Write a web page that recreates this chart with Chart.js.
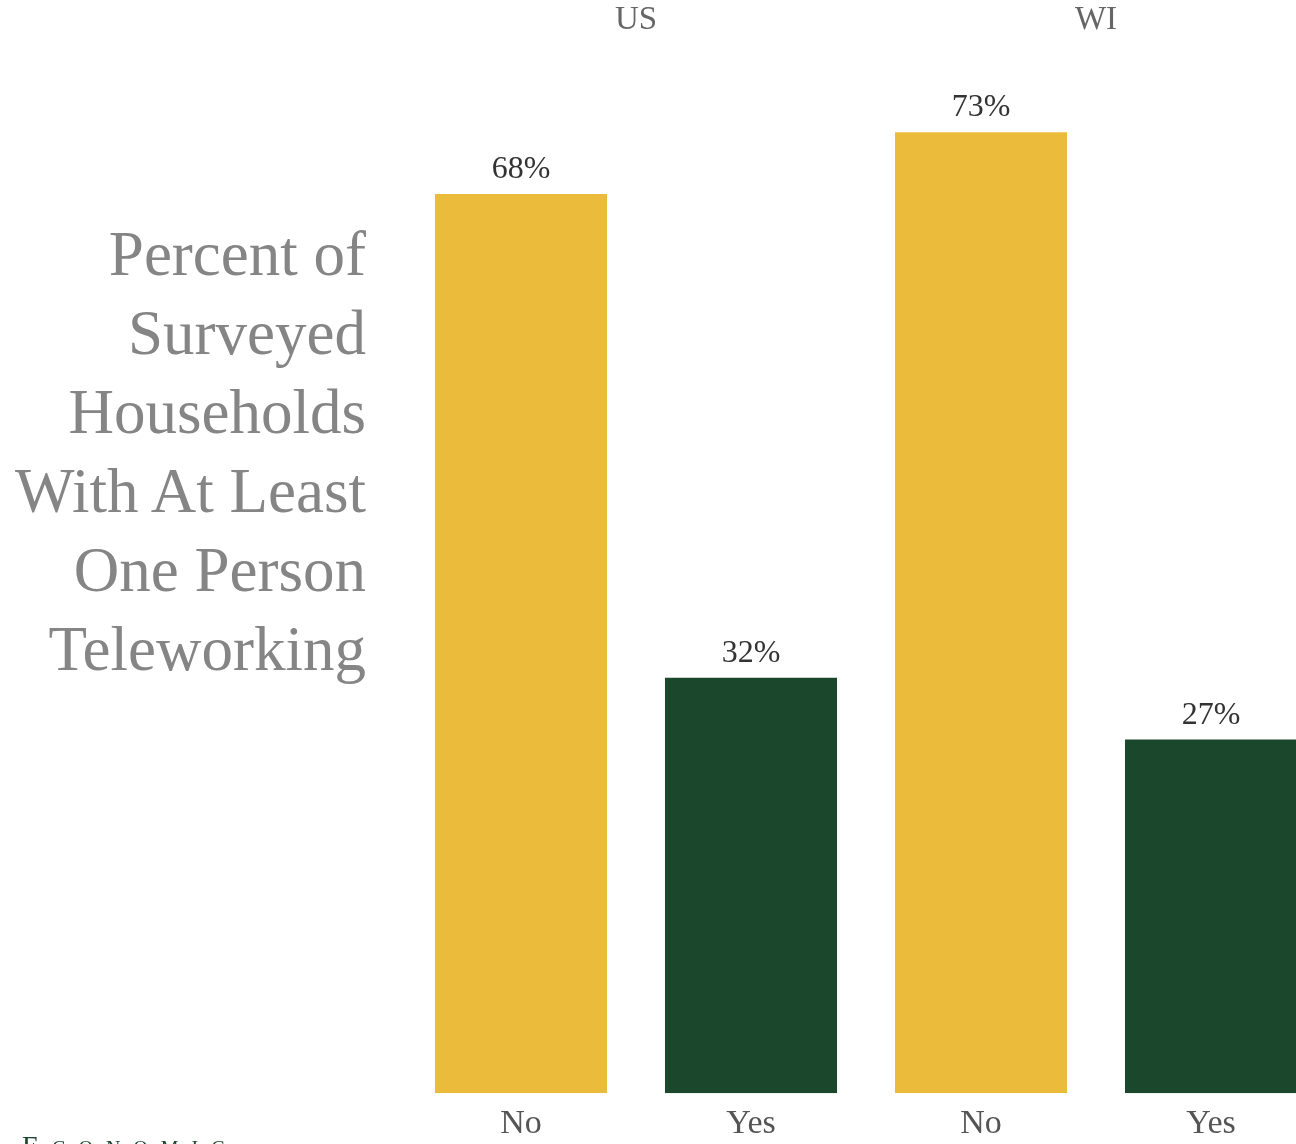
<!DOCTYPE html>
<html>
<head>
<meta charset="utf-8">
<script src="https://cdn.jsdelivr.net/npm/chart.js"></script>
<style>
  html, body { margin: 0; padding: 0; background: #fff; overflow: hidden; }
  #wrap { position: relative; width: 1296px; height: 1144px; overflow: hidden; }
  #grafico { position: absolute; left: 0; top: 0; }
  #titulo {
    position: absolute; left: 0; top: 215px; width: 366px;
    text-align: right; font-family: "Liberation Serif", serif;
    font-size: 63px; line-height: 79px; color: #858585;
  }
  #marca {
    position: absolute; left: 22px; top: 1132px;
    font-family: "Liberation Serif", serif; font-size: 28px; line-height: 28px;
    font-variant: small-caps; letter-spacing: 13px; color: #1b472c;
  }
</style>
</head>
<body>
<div id="wrap">
  <canvas id="grafico" width="1326" height="1144"></canvas>
  <div id="titulo">Percent of<br>Surveyed<br>Households<br>With At Least<br>One Person<br>Teleworking</div>
  <div id="marca">Economic</div>
</div>
<script>
const categorias = ["No", "Yes", "No", "Yes"];
const grupos = ["US", "WI"];
const valores = [68.4, 31.6, 73.1, 26.9];
const colores = ["#ebbc3c", "#1b472c", "#ebbc3c", "#1b472c"];

// etiquetas de porcentaje encima de cada barra
const etiquetasBarras = {
  id: "etiquetasBarras",
  afterDatasetsDraw(chart) {
    const ctx = chart.ctx;
    const meta = chart.getDatasetMeta(0);
    ctx.save();
    ctx.font = "32px 'Liberation Serif', serif";
    ctx.fillStyle = "#333333";
    ctx.textAlign = "center";
    ctx.textBaseline = "alphabetic";
    meta.data.forEach((bar, i) => {
      ctx.fillText(Math.round(valores[i]) + "%", bar.x, bar.y - 16);
    });
    ctx.restore();
  },
};

const ctx = document.getElementById("grafico").getContext("2d");
new Chart(ctx, {
  type: "bar",
  data: {
    labels: categorias,
    datasets: [
      {
        data: valores,
        backgroundColor: colores,
        borderWidth: 0,
        categoryPercentage: 1,
        barPercentage: 0.748,
      },
    ],
  },
  options: {
    responsive: false,
    animation: false,
    layout: { padding: { left: 406, right: 0, top: 0, bottom: -10 } },
    plugins: {
      legend: { display: false },
      tooltip: { enabled: false },
    },
    scales: {
      x: {
        grid: { display: false, drawTicks: false },
        border: { display: false },
        ticks: {
          color: "#555555",
          font: { family: "'Liberation Serif', serif", size: 34 },
          padding: 10,
        },
      },
      x2: {
        type: "category",
        labels: grupos,
        position: "top",
        grid: { display: false, drawTicks: false },
        border: { display: false },
        ticks: {
          color: "#666666",
          font: { family: "'Liberation Serif', serif", size: 33 },
          padding: 1,
        },
      },
      y: {
        display: false,
        min: 0,
        max: 80,
      },
    },
  },
  plugins: [etiquetasBarras],
});
</script>
</body>
</html>
